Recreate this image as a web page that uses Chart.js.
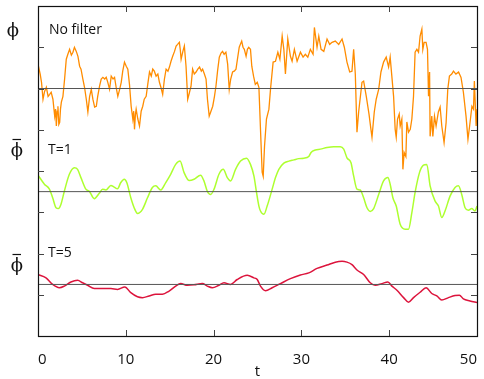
<!DOCTYPE html>
<html>
<head>
<meta charset="utf-8">
<script src="https://cdn.jsdelivr.net/npm/chart.js@4"></script>
<style>
  body { margin: 0; background: #fff; }
</style>
</head>
<body>
<canvas id="myChart" width="484" height="379"></canvas>
<script>
// raw signal (no filter)
const tRaw = [0, 0.25, 0.4, 0.57, 0.75, 0.95, 1.15, 1.33, 1.5, 1.7, 1.9, 2.0, 2.09, 2.18, 2.27, 2.37, 2.47, 2.56, 2.66, 2.84,
    3.03, 3.22, 3.4, 3.6, 3.8, 3.98, 4.15, 4.36, 4.55, 4.74, 4.9, 5.11, 5.3, 5.5, 5.68, 5.88, 6.07, 6.25, 6.45, 6.64,
    6.8, 7.01, 7.2, 7.39, 7.6, 7.77, 7.95, 8.15, 8.34, 8.55, 8.72, 8.9, 9.09, 9.3, 9.48, 9.65, 9.85, 10.05, 10.23, 10.42,
    10.61, 10.8, 10.9, 10.99, 11.1, 11.18, 11.37, 11.56, 11.75, 11.93, 12.1, 12.32, 12.5, 12.7, 12.9, 13.07, 13.25, 13.45, 13.65, 13.83,
    14.0, 14.2, 14.4, 14.59, 14.8, 14.97, 15.15, 15.34, 15.55, 15.73, 15.9, 16.1, 16.2, 16.3, 16.5, 16.67, 16.86, 17.05, 17.2, 17.43,
    17.61, 17.8, 18.0, 18.2, 18.4, 18.6, 18.75, 18.95, 19.14, 19.3, 19.5, 19.7, 19.9, 20.1, 20.27, 20.45, 20.65, 20.85, 21.02, 21.2,
    21.4, 21.6, 21.78, 21.95, 22.16, 22.35, 22.55, 22.75, 22.92, 23.1, 23.2, 23.35, 23.5, 23.7, 23.85, 24.0, 24.2, 24.35, 24.55, 24.75,
    24.97, 25.16, 25.34, 25.53, 25.65, 25.8, 26.02, 26.3, 26.48, 26.78, 27.05, 27.32, 27.55, 27.81, 28.0, 28.18, 28.45, 28.75, 28.94, 29.2,
    29.51, 29.89, 30.19, 30.45, 30.73, 31.02, 31.33, 31.48, 31.78, 31.98, 32.24, 32.55, 32.92, 33.22, 33.49, 33.86, 34.25, 34.63, 34.89, 35.19,
    35.5, 35.76, 35.95, 36.14, 36.33, 36.52, 36.9, 37.09, 37.39, 37.7, 37.92, 38.04, 38.3, 38.52, 38.8, 39.06, 39.36, 39.66, 39.93, 40.11,
    40.3, 40.5, 40.68, 40.8, 40.95, 41.14, 41.25, 41.44, 41.56, 41.7, 41.9, 42.01, 42.2, 42.4, 42.58, 42.77, 42.95, 43.15, 43.34, 43.52,
    43.72, 43.83, 43.98, 44.2, 44.36, 44.48, 44.6, 44.66, 44.85, 44.97, 45.16, 45.34, 45.6, 45.8, 45.99, 46.25, 46.48, 46.67, 46.86, 47.12,
    47.32, 47.6, 47.9, 48.18, 48.45, 48.75, 48.97, 49.16, 49.42, 49.6, 49.7, 49.9, 50]
const phiRaw = [0.59, 0.35, 0.15, -0.26, -0.07, 0.03, -0.19, -0.14, -0.09, -0.26, -0.67, -0.5, -0.91, -0.55, -0.43, -0.87, -0.82, -0.5, -0.33, -0.19,
    0.23, 0.71, 0.83, 0.95, 0.81, 0.88, 1.0, 0.9, 0.78, 0.54, 0.47, 0.23, 0.03, -0.26, -0.57, -0.19, -0.02, -0.26, -0.45, -0.43,
    -0.19, 0.06, 0.23, 0.27, 0.23, 0.27, 0.15, -0.02, 0.3, 0.23, 0.27, 0.03, -0.19, -0.02, 0.15, 0.42, 0.64, 0.54, 0.47, 0.1,
    -0.43, -0.74, -0.55, -0.99, -0.62, -0.5, -0.74, -0.91, -0.55, -0.43, -0.26, -0.19, 0.1, 0.4, 0.3, 0.47, 0.42, 0.3, 0.35, 0.15,
    0.03, -0.14, 0.23, 0.47, 0.42, 0.52, 0.66, 0.78, 0.9, 1.03, 1.07, 1.12, 0.95, 0.71, 0.9, 1.03, 0.54, -0.26, -0.14, 0.06,
    0.47, 0.35, 0.4, 0.47, 0.52, 0.42, 0.47, 0.35, 0.23, -0.26, -0.67, -0.55, -0.43, -0.19, 0.06, 0.42, 0.76, 0.86, 0.9, 0.83,
    0.88, 0.59, -0.02, 0.23, 0.4, 0.42, 0.47, 0.76, 1.0, 1.1, 1.15, 1.0, 0.95, 0.78, 0.95, 1.0, 0.95, 0.54, 0.3, 0.1,
    0.15, 0.03, -0.99, -2.03, -2.13, -1.4, -0.74, -0.5, -0.02, 0.64, 0.66, 0.88, 0.71, 1.27, 0.95, 0.35, 1.2, 0.78, 0.66, 0.95,
    0.66, 0.88, 0.76, 0.83, 0.76, 0.95, 0.83, 1.48, 1.0, 1.27, 0.95, 0.9, 1.2, 1.07, 1.12, 1.15, 1.07, 1.2, 1.0, 0.64,
    0.4, 0.42, 0.95, 0.35, -1.06, -0.57, 0.15, 0.18, -0.19, -0.62, -0.99, -1.18, -0.57, -0.26, -0.02, 0.4, 0.64, 0.76, 0.52, 0.76,
    0.3, -0.19, -0.99, -1.18, -0.74, -0.62, -0.91, -0.74, -1.96, -1.55, -1.65, -0.81, -1.06, -0.99, -0.74, -0.19, 0.88, 0.95, 0.88, 1.27,
    1.44, 0.95, 1.12, 1.12, 0.95, -0.19, 0.4, -1.16, -0.67, -1.16, -0.67, -0.91, -0.57, -0.45, -0.91, -1.31, -0.83, -0.02, 0.3, 0.35,
    0.42, 0.35, 0.4, 0.27, -0.09, -0.67, -1.23, -0.91, -0.43, -0.5, 0.18, -0.91, -0.5]

// filtered, T=1
const tT1 = [0, 0.73, 1.3, 1.67, 2.05, 2.32, 2.61, 3.0, 3.57, 4.14, 4.51, 4.89, 5.45, 5.84, 6.41, 6.98, 7.35, 7.73, 8.3, 8.68,
    9.06, 9.43, 9.82, 10.11, 10.57, 10.95, 11.33, 11.9, 12.47, 13.03, 13.41, 13.98, 14.55, 15.11, 15.68, 16.18, 16.64, 17.2, 17.77, 18.52,
    18.9, 19.28, 19.66, 20.05, 20.61, 21.1, 21.56, 21.93, 22.5, 23.07, 23.75, 24.2, 24.59, 24.89, 25.16, 25.34, 25.73, 26.1, 26.67, 27.05,
    27.43, 28.0, 28.57, 29.14, 29.7, 30.27, 30.84, 31.1, 31.59, 32.16, 32.92, 33.68, 34.43, 34.82, 35.19, 35.65, 35.95, 36.33, 36.7, 37.09,
    37.47, 37.84, 38.23, 38.8, 39.36, 39.85, 40.11, 40.42, 40.8, 41.25, 41.82, 42.2, 42.58, 42.95, 43.45, 43.9, 44.28, 44.66, 45.23, 45.61,
    45.99, 46.36, 46.93, 47.5, 47.89, 48.26, 48.64, 49.02, 49.4, 49.77, 50]
const phiT1 = [0.4, 0.18, 0.06, -0.15, -0.39, -0.41, -0.31, 0.01, 0.42, 0.58, 0.54, 0.34, 0.06, 0.01, -0.17, -0.04, 0.06, 0.04, 0.15, 0.11,
    0.07, 0.22, 0.3, 0.22, -0.15, -0.39, -0.53, -0.43, -0.15, 0.1, 0.14, 0.04, 0.22, 0.42, 0.66, 0.74, 0.46, 0.27, 0.3, 0.4,
    0.26, 0.01, -0.07, 0.06, 0.42, 0.54, 0.34, 0.26, 0.54, 0.74, 0.81, 0.66, 0.38, -0.02, -0.35, -0.47, -0.55, -0.35, 0.06, 0.34,
    0.54, 0.69, 0.74, 0.77, 0.8, 0.81, 0.85, 0.95, 1.01, 1.03, 1.07, 1.09, 1.09, 1.03, 0.82, 0.7, 0.38, 0.06, 0.04, -0.15,
    -0.39, -0.48, -0.41, -0.07, 0.26, 0.34, 0.18, -0.15, -0.35, -0.79, -0.91, -0.91, -0.51, -0.02, 0.46, 0.64, 0.66, 0.14, -0.23, -0.35,
    -0.63, -0.47, -0.11, 0.1, 0.14, -0.07, -0.39, -0.45, -0.41, -0.47, -0.35]

// filtered, T=5
const tT5 = [0, 0.91, 1.67, 2.43, 3.0, 3.75, 4.51, 5.08, 5.65, 6.41, 7.35, 8.3, 9.06, 9.89, 10.57, 11.33, 11.9, 12.66, 13.41, 14.17,
    14.93, 15.68, 16.25, 17.01, 17.77, 18.72, 19.28, 19.85, 20.61, 21.18, 21.93, 22.69, 23.83, 24.59, 24.97, 25.34, 25.91, 26.67, 27.61, 28.75,
    29.89, 30.84, 31.78, 32.92, 33.86, 34.63, 35.19, 35.76, 36.33, 37.09, 37.84, 38.41, 39.17, 39.85, 40.31, 40.88, 41.64, 42.2, 42.77, 43.52,
    44.2, 44.85, 45.42, 45.99, 46.75, 47.5, 48.0, 48.45, 49.2, 50]
const phiT5 = [0.24, 0.16, 0, -0.08, -0.04, 0.06, 0.1, 0.04, -0.02, -0.1, -0.1, -0.1, -0.12, -0.06, -0.2, -0.3, -0.32, -0.28, -0.24, -0.24,
    -0.16, -0.04, 0.02, -0.02, -0.01, 0.02, -0.04, -0.08, -0.02, 0.04, 0, 0.12, 0.22, 0.16, 0.12, -0.04, -0.15, -0.08, 0.02, 0.14,
    0.23, 0.28, 0.39, 0.47, 0.54, 0.56, 0.54, 0.48, 0.35, 0.24, 0.04, -0.02, 0.02, 0.06, -0.04, -0.14, -0.32, -0.43, -0.32, -0.19,
    -0.08, -0.22, -0.28, -0.38, -0.32, -0.27, -0.26, -0.35, -0.4, -0.44]

const xTicks = [0, 10, 20, 30, 40, 50]
const yTicks = [1, 2, 3, 4, 5, 6, 7]

// vertical offset of each panel
const offRaw = 6
const offT1 = 3.5
const offT5 = 1.25

const toPoints = (ts, vals, off) => ts.map((t, i) => ({ x: t, y: vals[i] + off }))
const meanLine = off => [{ x: xTicks[0], y: off }, { x: xTicks[xTicks.length - 1], y: off }]

// phi with a bar over it (the filtered signal)
const phiBar = (ctx, x, y) => {
    ctx.fillText('ϕ', x, y)
    ctx.beginPath()
    ctx.moveTo(x - 4.5, y - 16.5)
    ctx.lineTo(x + 4, y - 16.5)
    ctx.stroke()
}

const frame = {
    id: 'frame',
    afterDatasetsDraw(chart) {
        const { ctx, chartArea: a, scales: { x, y } } = chart
        ctx.save()
        ctx.strokeStyle = '#111'
        ctx.lineWidth = 1.2
        ctx.strokeRect(a.left + 0.5, a.top + 0.5, a.right - a.left, a.bottom - a.top)
        ctx.lineWidth = 1
        ctx.strokeStyle = '#444'
        ctx.beginPath()
        xTicks.slice(1, -1).forEach(v => {
            const px = Math.round(x.getPixelForValue(v)) + 0.5
            ctx.moveTo(px, a.bottom); ctx.lineTo(px, a.bottom - 6)
            ctx.moveTo(px, a.top); ctx.lineTo(px, a.top + 6)
        })
        yTicks.forEach(v => {
            const py = Math.round(y.getPixelForValue(v)) + 0.5
            ctx.moveTo(a.left, py); ctx.lineTo(a.left + 6, py)
            ctx.moveTo(a.right, py); ctx.lineTo(a.right - 6, py)
        })
        ctx.stroke()

        ctx.fillStyle = '#111'
        ctx.textBaseline = 'alphabetic'
        ctx.textAlign = 'left'
        ctx.font = '14px "Open Sans"'
        ctx.fillText('No filter', a.left + 11, 34)
        ctx.fillText('T=1', a.left + 10, 154)
        ctx.fillText('T=5', a.left + 10, 257)

        ctx.textAlign = 'center'
        ctx.font = '18px "DejaVu Serif"'
        ctx.strokeStyle = '#111'
        ctx.lineWidth = 1.2
        ctx.fillText('ϕ', 13, 36)
        phiBar(ctx, 17, 156)
        phiBar(ctx, 17, 271)
        ctx.restore()
    }
}

const ctx = document.querySelector('#myChart').getContext('2d')

new Chart(ctx, {
    type: 'line',
    data: {
        datasets: [
            { data: meanLine(offRaw), borderColor: '#555', borderWidth: 1, pointRadius: 0, order: 0 },
            { data: meanLine(offT1), borderColor: '#555', borderWidth: 1, pointRadius: 0, order: 0 },
            { data: meanLine(offT5), borderColor: '#555', borderWidth: 1, pointRadius: 0, order: 0 },
            {
                label: 'No filter',
                data: toPoints(tRaw, phiRaw, offRaw),
                borderColor: '#ff8c00',
                borderWidth: 1.3,
                pointRadius: 0,
                order: 1
            },
            {
                label: 'T=1',
                data: toPoints(tT1, phiT1, offT1),
                borderColor: '#adff2f',
                borderWidth: 1.5,
                pointRadius: 0,
                cubicInterpolationMode: 'monotone',
                order: 1
            },
            {
                label: 'T=5',
                data: toPoints(tT5, phiT5, offT5),
                borderColor: '#dc143c',
                borderWidth: 1.5,
                pointRadius: 0,
                cubicInterpolationMode: 'monotone',
                order: 1
            }
        ]
    },
    options: {
        responsive: false,
        animation: false,
        layout: { padding: { left: 38, right: 5, top: 6, bottom: 0 } },
        plugins: { legend: { display: false }, tooltip: { enabled: false } },
        scales: {
            x: {
                type: 'linear',
                min: 0,
                max: 50,
                grid: { display: false },
                border: { display: false },
                ticks: {
                    stepSize: 10,
                    align: 'inner',
                    padding: 7,
                    color: '#111',
                    font: { family: 'Open Sans', size: 15 }
                },
                title: {
                    display: true,
                    text: 't',
                    color: '#111',
                    font: { family: 'Open Sans', size: 15 },
                    padding: { top: 0, bottom: -2 }
                },
                afterFit: scale => { scale.height = 43 }
            },
            y: {
                type: 'linear',
                min: 0,
                max: 8,
                display: false
            }
        }
    },
    plugins: [frame]
})
</script>
</body>
</html>
